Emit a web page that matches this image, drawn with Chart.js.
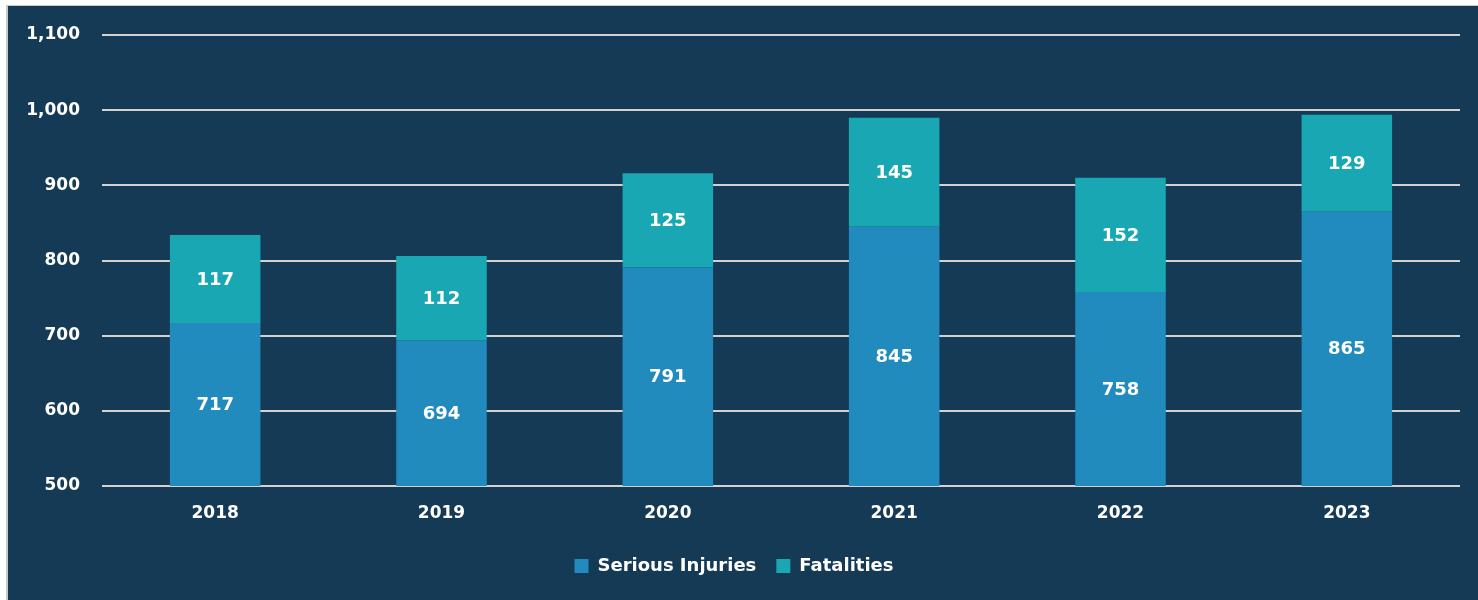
<!DOCTYPE html>
<html>
<head>
<meta charset="utf-8">
<script src="https://cdn.jsdelivr.net/npm/chart.js@4"></script>
<style>
  body { margin: 0; background: #ffffff; width: 1478px; height: 600px; overflow: hidden; }
  .panel {
    position: absolute; left: 6px; top: 5px; width: 1472px; height: 595px;
    background: #143a56; border-left: 2px solid #c9c9c9; border-top: 1px solid #c9c9c9;
  }
  .panel canvas { display: block; }
</style>
</head>
<body>
<div class="panel"><canvas id="crashChart" width="1470" height="594"></canvas></div>
<script>
// Dados do gráfico
const years = ['2018', '2019', '2020', '2021', '2022', '2023'];
const seriousInjuries = [717, 694, 791, 845, 758, 865];
const fatalities = [117, 112, 125, 145, 152, 129];
const yTicks = [500, 600, 700, 800, 900, 1000, 1100];

const FONT = '"DejaVu Sans", Verdana, sans-serif';

// Plugin simples para escrever o valor no meio de cada segmento
const valueLabels = {
    id: 'valueLabels',
    afterDatasetsDraw(chart) {
        const ctx = chart.ctx;
        const bottom = chart.chartArea.bottom;
        ctx.save();
        ctx.fillStyle = '#ffffff';
        ctx.font = 'bold 18px ' + FONT;
        ctx.textAlign = 'center';
        ctx.textBaseline = 'middle';
        chart.data.datasets.forEach((ds, i) => {
            chart.getDatasetMeta(i).data.forEach((bar, j) => {
                const p = bar.getProps(['x', 'y', 'base'], true);
                // a base da primeira série fica abaixo do eixo (min 500), então limita
                const base = Math.min(p.base, bottom);
                ctx.fillText(ds.data[j].toString(), p.x, (p.y + base) / 2 + 1);
            });
        });
        ctx.restore();
    }
};

new Chart(document.getElementById('crashChart'), {
    type: 'bar',
    data: {
        labels: years,
        datasets: [{
            label: 'Serious Injuries',
            data: seriousInjuries,
            backgroundColor: '#218bbe',
            borderWidth: 0,
            barPercentage: 0.4,
            categoryPercentage: 1
        }, {
            label: 'Fatalities',
            data: fatalities,
            backgroundColor: '#19a7b3',
            borderWidth: 0,
            barPercentage: 0.4,
            categoryPercentage: 1
        }]
    },
    options: {
        responsive: false,
        animation: false,
        layout: { padding: { top: 29, right: 18, bottom: 15, left: 0 } },
        plugins: {
            legend: {
                position: 'bottom',
                labels: {
                    color: '#ffffff',
                    font: { family: FONT, size: 18, weight: 'bold' },
                    boxWidth: 14,
                    boxHeight: 14,
                    padding: 20
                }
            },
            tooltip: { enabled: false }
        },
        scales: {
            x: {
                stacked: true,
                grid: { display: false },
                border: { display: false },
                ticks: {
                    color: '#ffffff',
                    font: { family: FONT, size: 17, weight: 'bold' },
                    padding: 9
                },
                afterFit(scale) { scale.height = 51; }
            },
            y: {
                stacked: true,
                min: 500,
                max: 1100,
                afterBuildTicks(scale) { scale.ticks = yTicks.map(v => ({ value: v })); },
                grid: { color: '#d2d2d2', lineWidth: 2, drawTicks: false },
                border: { display: false },
                ticks: {
                    color: '#ffffff',
                    font: { family: FONT, size: 17, weight: 'bold' },
                    padding: 22,
                    callback: v => v.toLocaleString('en-US')
                },
                afterFit(scale) {
                    scale.width = 94;
                    // o padding dos ticks não deve empurrar a área do gráfico para baixo
                    scale.paddingTop = 10;
                    scale.paddingBottom = 10;
                }
            }
        }
    },
    plugins: [valueLabels]
});
</script>
</body>
</html>
